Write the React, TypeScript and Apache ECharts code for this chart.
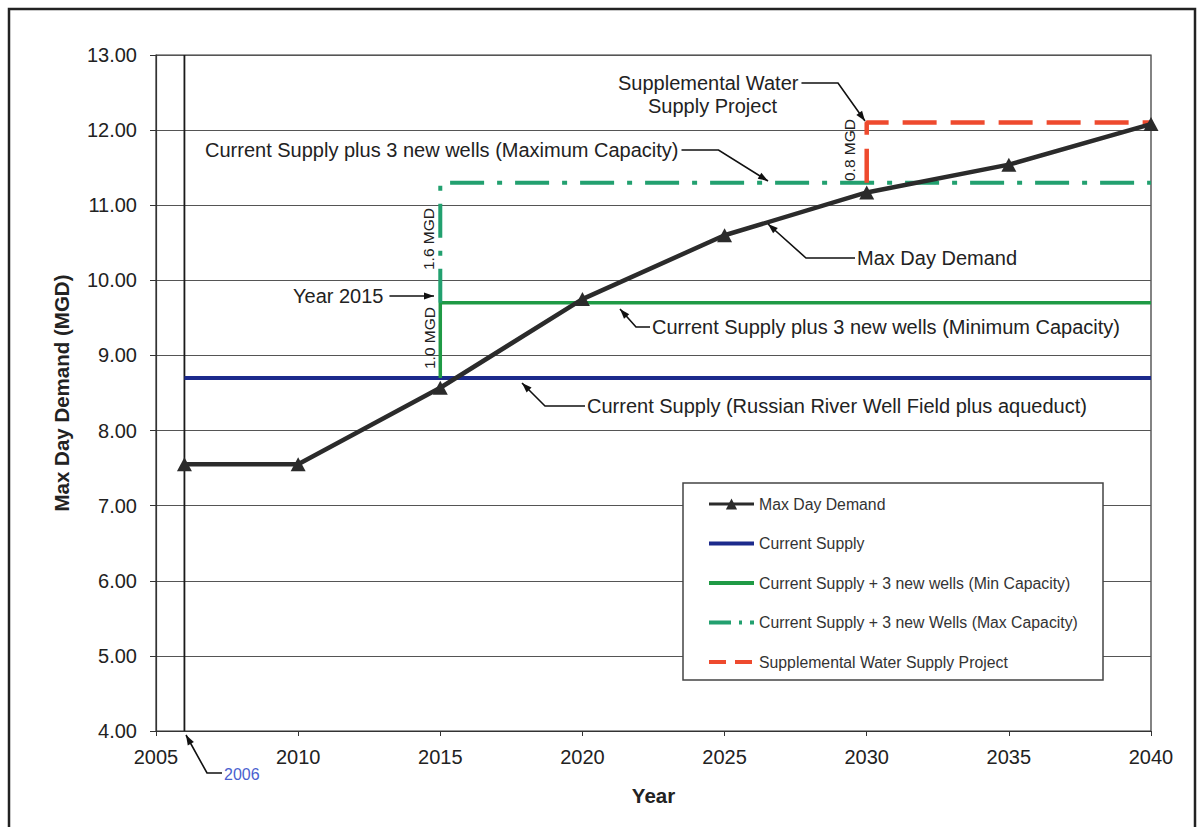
import React, { useEffect, useRef } from "react";
import * as echarts from "echarts";

// ---- data ----
const demandYears = [2006, 2010, 2015, 2020, 2025, 2030, 2035, 2040];
const maxDayDemand = [7.55, 7.55, 8.57, 9.75, 10.6, 11.17, 11.54, 12.08];

const currentSupplyYears = [2006, 2040];
const currentSupply = [8.7, 8.7];

const minCapYears = [2015, 2015, 2040];
const minCap = [8.7, 9.7, 9.7];

const maxCapYears = [2015, 2015, 2040];
const maxCap = [9.7, 11.3, 11.3];

const suppYears = [2030, 2030, 2040];
const supp = [11.3, 12.1, 12.1];

const baseYearLineYears = [2006, 2006];
const baseYearLine = [4, 13];

const xTicks = { min: 2005, max: 2040, interval: 5 };
const yTicks = { min: 4, max: 13, interval: 1 };

const seriesNames = [
  "Max Day Demand",
  "Current Supply",
  "Current Supply + 3 new wells (Min Capacity)",
  "Current Supply + 3 new Wells (Max Capacity)",
  "Supplemental Water Supply Project",
];

const zip = (xs: number[], ys: number[]) => xs.map((x, i) => [x, ys[i]]);

const FONT = "Liberation Sans, Arial, sans-serif";

const C_DEMAND = "#2b2b2b";
const C_SUPPLY = "#1c2a8c";
const C_MIN = "#1f9a45";
const C_MAX = "#22a06f";
const C_SUPP = "#ee4a2e";

function measure(text: string, size: number, weight = "normal") {
  const c = document.createElement("canvas").getContext("2d");
  if (!c) return text.length * size * 0.5;
  c.font = `${weight} ${size}px Liberation Sans, Arial, sans-serif`;
  return c.measureText(text).width;
}

function arrowHead(x1: number, y1: number, x2: number, y2: number, size = 10, w = 3.5) {
  const a = Math.atan2(y2 - y1, x2 - x1);
  const dx = Math.cos(a), dy = Math.sin(a);
  const bx = x2 - dx * size, by = y2 - dy * size;
  return {
    type: "polygon",
    z: 30,
    shape: { points: [[x2, y2], [bx - dy * w, by + dx * w], [bx + dy * w, by - dx * w]] },
    style: { fill: "#111" },
  };
}

function leader(points: number[][], arrow = true) {
  const els: any[] = [
    { type: "polyline", z: 30, shape: { points }, style: { stroke: "#111", lineWidth: 1.6, fill: null } },
  ];
  if (arrow) {
    const n = points.length;
    els.push(arrowHead(points[n - 2][0], points[n - 2][1], points[n - 1][0], points[n - 1][1]));
  }
  return els;
}

function label(text: string, x: number, y: number, size = 20, color = "#222", align = "left") {
  return {
    type: "text",
    z: 30,
    x,
    y,
    style: { text, fill: color, font: `${size}px ${FONT}`, align, verticalAlign: "middle" },
  };
}

function vlabel(text: string, x: number, y: number) {
  return {
    type: "text",
    z: 30,
    x,
    y,
    rotation: Math.PI / 2,
    style: { text, fill: "#222", font: `15.5px ${FONT}`, align: "center", verticalAlign: "middle" },
  };
}

export default function App() {
  const ref = useRef<HTMLDivElement>(null);
  useEffect(() => {
    if (!ref.current) return;
    const chart = echarts.init(ref.current, null, { renderer: "svg" });

    const ann = 20;
    const maxCapText = "Current Supply plus 3 new wells (Maximum Capacity)";
    const maxCapEnd = 205 + measure(maxCapText, ann);
    const suppText = "Supplemental Water";
    const suppEnd = 618 + measure(suppText, ann);
    const yearText = "Year 2015";
    const yearEnd = 293 + measure(yearText, ann);

    const graphics: any[] = [
      { type: "rect", z: 0, shape: { x: 9, y: 9, width: 1186, height: 840 }, style: { fill: null, stroke: "#222", lineWidth: 2.5 } },
      { type: "rect", z: 10, shape: { x: 683, y: 483, width: 420, height: 197 }, style: { fill: "#fff", stroke: "#444", lineWidth: 1.5 } },
      label(suppText, 618, 83),
      label("Supply Project", 648, 106),
      ...leader([[suppEnd + 3, 83], [Math.max(suppEnd + 30, 838), 83], [865, 121]]),
      label(maxCapText, 205, 150),
      ...leader([[maxCapEnd + 3, 150], [maxCapEnd + 40, 150], [768, 181]]),
      label(yearText, 293, 296),
      ...leader([[yearEnd + 6, 296], [434, 296]]),
      label("Max Day Demand", 857, 258),
      ...leader([[855, 258], [806, 258], [768, 224]]),
      label("Current Supply plus 3 new wells (Minimum Capacity)", 652, 327),
      ...leader([[650, 327], [636, 327], [620, 309]]),
      label("Current Supply (Russian River Well Field plus aqueduct)", 587, 406),
      ...leader([[585, 406], [545, 406], [522, 383]]),
      label("2006", 224, 774, 16, "#4a5fcf"),
      ...leader([[222, 773], [207, 773], [186, 735]]),
      vlabel("1.0 MGD", 429, 338),
      vlabel("1.6 MGD", 428, 239),
      vlabel("0.8 MGD", 849, 150),
    ];

    const hideSym = { opacity: 0 };

    chart.setOption({
      animation: false,
      backgroundColor: "#fff",
      grid: {
        left: 156,
        right: 48,
        top: 55,
        bottom: 96,
        show: true,
        borderColor: "#333",
        borderWidth: 1.2,
        containLabel: false,
      },
      legend: {
        data: [
          { name: seriesNames[0], lineStyle: { color: C_DEMAND, width: 3, type: "solid" } },
          { name: seriesNames[1], itemStyle: hideSym, lineStyle: { color: C_SUPPLY, width: 4, type: "solid" } },
          { name: seriesNames[2], itemStyle: hideSym, lineStyle: { color: C_MIN, width: 4, type: "solid" } },
          { name: seriesNames[3], itemStyle: hideSym, lineStyle: { color: C_MAX, width: 4, type: [22, 8, 3, 8] } },
          { name: seriesNames[4], itemStyle: hideSym, lineStyle: { color: C_SUPP, width: 4, type: [17, 9] } },
        ],
        orient: "vertical",
        left: 707,
        top: 496,
        padding: 0,
        itemGap: 23.5,
        itemWidth: 45,
        itemHeight: 14,
        z: 20,
        textStyle: { fontSize: 15.8, color: "#333", fontFamily: FONT, lineHeight: 16 },
      },
      xAxis: {
        type: "value",
        min: xTicks.min,
        max: xTicks.max,
        interval: xTicks.interval,
        name: "Year",
        nameLocation: "middle",
        nameGap: 54,
        nameTextStyle: { fontSize: 20.5, fontWeight: "bold", color: "#222", fontFamily: FONT },
        axisLine: { show: true, lineStyle: { color: "#333", width: 1.2 } },
        axisTick: { show: true, length: 5, lineStyle: { color: "#333" } },
        splitLine: { show: false },
        axisLabel: { fontSize: 20, color: "#222", margin: 16, fontFamily: FONT, formatter: (v: number) => String(v) },
      },
      yAxis: {
        type: "value",
        min: yTicks.min,
        max: yTicks.max,
        interval: yTicks.interval,
        name: "Max Day Demand (MGD)",
        nameLocation: "middle",
        nameGap: 84,
        nameTextStyle: { fontSize: 20.5, fontWeight: "bold", color: "#222", fontFamily: FONT },
        axisLine: { show: true, lineStyle: { color: "#333", width: 1.2 } },
        axisTick: { show: true, length: 6, lineStyle: { color: "#333" } },
        splitLine: { show: true, lineStyle: { color: "#555", width: 1 } },
        axisLabel: { fontSize: 20, color: "#222", margin: 19, fontFamily: FONT, formatter: (v: number) => v.toFixed(2) },
      },
      series: [
        {
          name: "base2006",
          type: "line",
          data: zip(baseYearLineYears, baseYearLine),
          symbol: "none",
          lineStyle: { color: "#1a1a1a", width: 1.8 },
          z: 1,
        },
        {
          name: seriesNames[1],
          type: "line",
          data: zip(currentSupplyYears, currentSupply),
          symbol: "none",
          itemStyle: { color: C_SUPPLY },
          lineStyle: { color: C_SUPPLY, width: 4 },
          z: 2,
        },
        {
          name: seriesNames[2],
          type: "line",
          data: zip(minCapYears, minCap),
          symbol: "none",
          itemStyle: { color: C_MIN },
          lineStyle: { color: C_MIN, width: 3.5 },
          z: 3,
        },
        {
          name: seriesNames[3],
          type: "line",
          data: zip(maxCapYears, maxCap),
          symbol: "none",
          itemStyle: { color: C_MAX },
          lineStyle: { color: C_MAX, width: 4, type: [34, 13, 5, 13] },
          z: 3,
        },
        {
          name: seriesNames[4],
          type: "line",
          data: zip(suppYears, supp),
          symbol: "none",
          itemStyle: { color: C_SUPP },
          lineStyle: { color: C_SUPP, width: 4.5, type: [34, 14] },
          z: 3,
        },
        {
          name: seriesNames[0],
          type: "line",
          data: zip(demandYears, maxDayDemand),
          symbol: "triangle",
          symbolSize: [15, 14],
          itemStyle: { color: C_DEMAND },
          lineStyle: { color: C_DEMAND, width: 4.5 },
          z: 5,
        },
      ],
      graphic: graphics,
    });

    return () => chart.dispose();
  }, []);

  return (
    <div
      ref={ref}
      style={{ position: "absolute", left: 0, top: 0, width: 1199, height: 827, background: "#fff" }}
    />
  );
}
